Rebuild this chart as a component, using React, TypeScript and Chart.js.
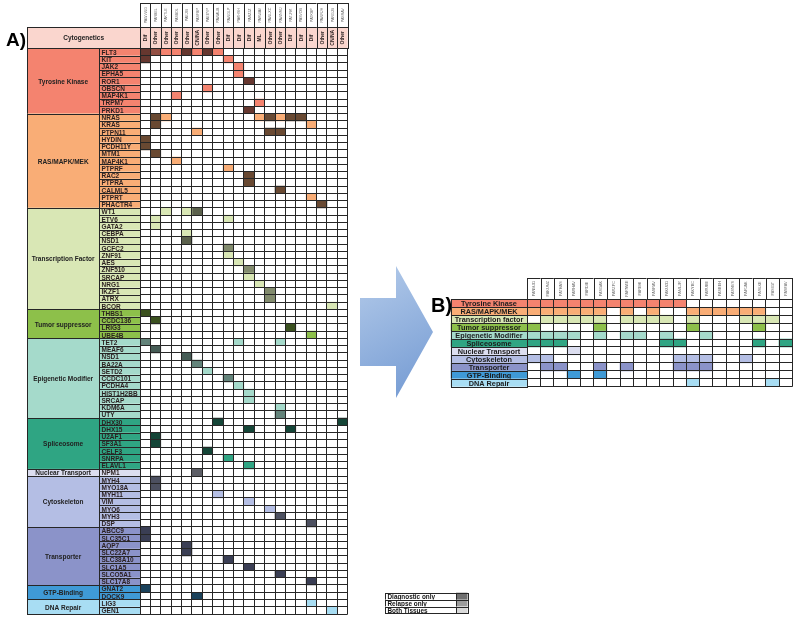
import { useEffect, useRef } from "react";
import { Chart, registerables } from "chart.js";
Chart.register(...registerables);

// ---------------- DATA ----------------
const patientsA = ["PAWVWG","PARBEL","PAKTLE","PASBDL","PAEJIB","PASFBP","PAEEYP","PAWAUB","PAWGLP","PAKHSH","PARZJZ","PARWAV","PAWLXC","PAWNMJ","PATJRK","PASVDB","PATKBP","PAWRJH","PARGJB","PASRAV"];
const cytogeneticsA = ["Dif","Other","Other","Other","Other","CN/NA","Other","Other","Dif","Dif","Dif","ML","Other","Other","Dif","Dif","Dif","Other","CN/NA","Other"];

const groupNamesA = ["Tyrosine Kinase","RAS/MAPK/MEK","Transcription Factor","Tumor suppressor","Epigenetic Modifier","Spliceosome","Nuclear Transport","Cytoskeleton","Transporter","GTP-Binding","DNA Repair"];
const groupColors = ["#F4836F","#F9AD76","#D9E7B5","#8DC04A","#A5DACB","#2FA583","#DCDEF0","#B4BEE4","#8B93C9","#3F9AD6","#A8DDF3"];

// hit spec: "<column><code>"  d = diagnostic only, r = relapse only, b = both tissues
const tyrosineKinaseA: [string, string][] = [
  ["FLT3","0d 1r 2b 3b 4d 5b 6d 7b"],["KIT","0d 8b"],["JAK2","9b"],["EPHA5","9b"],["ROR1","10d"],
  ["OBSCN","6b"],["MAP4K1","3b"],["TRPM7","11b"],["PRKD1","10d"],
];
const rasMapkMekA: [string, string][] = [
  ["NRAS","1d 2b 11b 12d 13b 14d 15d"],["KRAS","1d 16b"],["PTPN11","5b 12d 13d"],["HYDIN","0d"],["PCDH11Y","0d"],
  ["MTM1","1d"],["MAP4K1","3b"],["PTPRF","8b"],["RAC2","10d"],["PTPRA","10d"],["CALML5","13d"],["PTPRT","16b"],["PHACTR4","17d"],
];
const transcriptionFactorA: [string, string][] = [
  ["WT1","2b 4b 5d"],["ETV6","1b 8b"],["GATA2","1b"],["CEBPA","4b"],["NSD1","4d"],["GCFC2","8r"],["ZNF91","8b"],
  ["AES","9b"],["ZNF510","10r"],["SRCAP","10b"],["NRG1","11b"],["IKZF1","12r"],["ATRX","12r"],["BCOR","18b"],
];
const tumorSuppressorA: [string, string][] = [["THBS1","0d"],["CCDC136","1d"],["LRIG3","14d"],["UBE4B","16b"]];
const epigeneticModifierA: [string, string][] = [
  ["TET2","0r 9b 13b"],["MEAF6","1d"],["NSD1","4d"],["BA22A","5r"],["SETD2","6b"],["CCDC101","8r"],
  ["PCDHA4","9b"],["HIST1H2BB","10b"],["SRCAP","10b"],["KDM6A","13b"],["UTY","13r"],
];
const spliceosomeA: [string, string][] = [
  ["DHX30","7d 19d"],["DHX15","10d 14d"],["U2AF1","1d"],["SF3A1","1d"],["CELF3","6d"],["SNRPA","8b"],["ELAVL1","10b"],
];
const nuclearTransportA: [string, string][] = [["NPM1","5d"]];
const cytoskeletonA: [string, string][] = [
  ["MYH4","1d"],["MYO18A","1d"],["MYH11","7b"],["VIM","10b"],["MYO6","12b"],["MYH3","13d"],["DSP","16d"],
];
const transporterA: [string, string][] = [
  ["ABCC9","0d"],["SLC35C1","0d"],["AQP7","4d"],["SLC22A7","4d"],["SLC38A10","8d"],["SLC1A5","10d"],["SLCO5A1","13d"],["SLC17A8","16d"],
];
const gtpBindingA: [string, string][] = [["GNAT2","0d"],["DOCK9","5d"]];
const dnaRepairA: [string, string][] = [["LIG3","16b"],["GEN1","18b"]];

const groupsA = [tyrosineKinaseA, rasMapkMekA, transcriptionFactorA, tumorSuppressorA, epigeneticModifierA, spliceosomeA, nuclearTransportA, cytoskeletonA, transporterA, gtpBindingA, dnaRepairA];

const patientsB = ["PANMJD","PAKUMZ","PATHAS","PARHAV","PARDIE","PASGAK","PARZPC","PARNWE","PAREHI","PASRAV","PAKUZD","PAMLJR","PAKYBC","PARUBE","PASBEH","PASNVS","PARJAK","PASLXE","PASIGT","PASFAV"];
const categoriesB = ["Tyrosine Kinase","RAS/MAPK/MEK","Transcription factor","Tumor suppressor","Epigenetic Modifier","Spliceosome","Nuclear Transport","Cytoskeleton","Transporter","GTP-Binding","DNA Repair"];
const hitsTyrosineKinaseB = [0,1,2,3,4,5,6,7,8,9,10,11];
const hitsRasB = [0,1,2,3,4,5,7,9,12,13,14,15,16,17];
const hitsTranscriptionB = [1,2,3,4,5,7,8,9,10,12,16,17,18];
const hitsTumorB = [0,5,12,17];
const hitsEpigeneticB = [0,1,2,3,5,7,8,10,13];
const hitsSpliceosomeB = [0,1,2,10,11,17,19];
const hitsNuclearB = [3];
const hitsCytoskeletonB = [0,1,11,12,13,16];
const hitsTransporterB = [1,2,5,7,11,12,13];
const hitsGtpB = [3,5];
const hitsDnaRepairB = [12,18];
const hitsB = [hitsTyrosineKinaseB, hitsRasB, hitsTranscriptionB, hitsTumorB, hitsEpigeneticB, hitsSpliceosomeB, hitsNuclearB, hitsCytoskeletonB, hitsTransporterB, hitsGtpB, hitsDnaRepairB];

const legendLabels = ["Diagnostic only","Relapse only","Both Tissues"];
const legendColors = ["#6f6f6f","#9c9c9c","#d9d9d9"];

// ---------------- HELPERS ----------------
const FONT = '"Liberation Sans", Arial, sans-serif';
const LINE = "#262626";

function shade(hex: string, f: number) {
  const n = parseInt(hex.slice(1), 16);
  const r = Math.round(((n >> 16) & 255) * f);
  const g = Math.round(((n >> 8) & 255) * f);
  const b = Math.round((n & 255) * f);
  return `rgb(${r},${g},${b})`;
}
function cellColor(gi: number, code: string) {
  const base = groupColors[gi];
  if (code === "d") return shade(base, 0.42);
  if (code === "r") return shade(base, 0.6);
  return base;
}
function parseSpec(spec: string): Record<number, string> {
  const out: Record<number, string> = {};
  spec.split(" ").forEach((tok) => {
    const m = tok.match(/^(\d+)([a-z])$/);
    if (m) out[Number(m[1])] = m[2];
  });
  return out;
}
const rowsA = groupsA.flatMap((g, gi) => g.map(([gene, spec]) => ({ gene, gi, hits: parseSpec(spec) })));

const cr = (v: number) => Math.round(v) + 0.5;

function rotText(ctx: CanvasRenderingContext2D, text: string, x: number, y: number) {
  ctx.save();
  ctx.translate(x, y);
  ctx.rotate(-Math.PI / 2);
  ctx.fillText(text, 0, 0);
  ctx.restore();
}

function lineRect(ctx: CanvasRenderingContext2D, x1: number, y1: number, x2: number, y2: number) {
  ctx.strokeRect(cr(x1), cr(y1), Math.round(x2) - Math.round(x1), Math.round(y2) - Math.round(y1));
}

// ---------------- PLUGINS ----------------
const panelAPlugin = {
  id: "panelA",
  afterDraw(chart: any) {
    const ctx: CanvasRenderingContext2D = chart.ctx;
    const ca = chart.chartArea;
    const xs = chart.scales.x;
    const ys = chart.scales.y;
    const rowH = ys.getPixelForValue(1) - ys.getPixelForValue(0);
    const rowT = (i: number) => ys.getPixelForValue(i) - rowH / 2;
    const catL = 27.3, geneL = 99, cytoT = 27.3, idT = 3;
    ctx.save();
    ctx.lineWidth = 1;
    ctx.strokeStyle = LINE;

    // gene name cells
    rowsA.forEach((r, i) => {
      const t = rowT(i);
      ctx.fillStyle = groupColors[r.gi];
      ctx.fillRect(geneL, t, ca.left - geneL, rowH);
      lineRect(ctx, geneL, t, ca.left, t + rowH);
      ctx.fillStyle = "#2a1f1f";
      ctx.font = `bold 6.5px ${FONT}`;
      ctx.textAlign = "left";
      ctx.textBaseline = "middle";
      ctx.fillText(r.gene, geneL + 2.5, t + rowH / 2 + 1);
    });

    // group cells
    let start = 0;
    groupsA.forEach((g, gi) => {
      const t = rowT(start), b = rowT(start + g.length);
      ctx.fillStyle = groupColors[gi];
      ctx.fillRect(catL, t, geneL - catL, b - t);
      lineRect(ctx, catL, t, geneL, b);
      ctx.fillStyle = "#222";
      ctx.font = `bold 6.5px ${FONT}`;
      ctx.textAlign = "center";
      ctx.textBaseline = "middle";
      ctx.fillText(groupNamesA[gi], (catL + geneL) / 2, (t + b) / 2 + 1);
      start += g.length;
    });

    // cytogenetics row
    ctx.fillStyle = "#FAD6CE";
    ctx.fillRect(catL, cytoT, ca.right - catL, ca.top - cytoT);
    lineRect(ctx, catL, cytoT, ca.left, ca.top);
    ctx.fillStyle = "#222";
    ctx.font = `bold 6.5px ${FONT}`;
    ctx.textAlign = "center";
    ctx.textBaseline = "middle";
    ctx.fillText("Cytogenetics", (catL + ca.left) / 2, (cytoT + ca.top) / 2 + 0.5);

    cytogeneticsA.forEach((c, i) => {
      const l = xs.getPixelForValue(i), r = xs.getPixelForValue(i + 1);
      lineRect(ctx, l, cytoT, r, ca.top);
      ctx.fillStyle = "#2b2222";
      ctx.font = `bold 5px ${FONT}`;
      ctx.textAlign = "center";
      ctx.textBaseline = "middle";
      rotText(ctx, c, (l + r) / 2 + 0.5, (cytoT + ca.top) / 2);
    });

    // patient id header
    patientsA.forEach((p, i) => {
      const l = xs.getPixelForValue(i), r = xs.getPixelForValue(i + 1);
      ctx.fillStyle = "#fff";
      ctx.fillRect(l, idT, r - l, cytoT - idT);
      lineRect(ctx, l, idT, r, cytoT);
      ctx.fillStyle = "#666";
      ctx.font = `3.6px ${FONT}`;
      ctx.textAlign = "center";
      ctx.textBaseline = "middle";
      rotText(ctx, p, (l + r) / 2 + 0.5, (idT + cytoT) / 2);
    });

    // panel letter
    ctx.fillStyle = "#000";
    ctx.font = `bold 19px ${FONT}`;
    ctx.textAlign = "left";
    ctx.textBaseline = "alphabetic";
    ctx.fillText("A)", 6, 46);
    ctx.restore();
  },
};

const OX = 360, OY = 260; // canvas B origin in page coords

const panelBPlugin = {
  id: "panelB",
  beforeDraw(chart: any) {
    const ctx: CanvasRenderingContext2D = chart.ctx;
    // arrow
    ctx.save();
    const g = ctx.createLinearGradient(0, 6, 72, 138);
    g.addColorStop(0, "#B4CBEA");
    g.addColorStop(1, "#7299D2");
    ctx.fillStyle = g;
    ctx.beginPath();
    ctx.moveTo(360 - OX, 298 - OY);
    ctx.lineTo(396 - OX, 298 - OY);
    ctx.lineTo(396 - OX, 266 - OY);
    ctx.lineTo(433 - OX, 332 - OY);
    ctx.lineTo(396 - OX, 398 - OY);
    ctx.lineTo(396 - OX, 366 - OY);
    ctx.lineTo(360 - OX, 366 - OY);
    ctx.closePath();
    ctx.fill();
    ctx.restore();
  },
  afterDraw(chart: any) {
    const ctx: CanvasRenderingContext2D = chart.ctx;
    const ca = chart.chartArea;
    const xs = chart.scales.x;
    const ys = chart.scales.y;
    const rowH = ys.getPixelForValue(1) - ys.getPixelForValue(0);
    const rowT = (i: number) => ys.getPixelForValue(i) - rowH / 2;
    const labL = 450.7 - OX, idT = 278 - OY;
    ctx.save();
    ctx.lineWidth = 1;
    ctx.strokeStyle = LINE;

    categoriesB.forEach((c, i) => {
      const t = rowT(i);
      ctx.fillStyle = groupColors[i];
      ctx.fillRect(labL, t, ca.left - labL, rowH);
      lineRect(ctx, labL, t, ca.left, t + rowH);
      ctx.fillStyle = "#1c1c1c";
      ctx.font = `bold 7.3px ${FONT}`;
      ctx.textAlign = "center";
      ctx.textBaseline = "middle";
      ctx.fillText(c, (labL + ca.left) / 2, t + rowH / 2 + 1);
    });

    patientsB.forEach((p, i) => {
      const l = xs.getPixelForValue(i), r = xs.getPixelForValue(i + 1);
      ctx.fillStyle = "#fff";
      ctx.fillRect(l, idT, r - l, ca.top - idT);
      lineRect(ctx, l, idT, r, ca.top);
      ctx.fillStyle = "#666";
      ctx.font = `3.8px ${FONT}`;
      ctx.textAlign = "center";
      ctx.textBaseline = "middle";
      rotText(ctx, p, (l + r) / 2 + 0.5, (idT + ca.top) / 2);
    });

    ctx.fillStyle = "#000";
    ctx.font = `bold 20px ${FONT}`;
    ctx.textAlign = "left";
    ctx.textBaseline = "alphabetic";
    ctx.fillText("B)", 431 - OX, 311.5 - OY);

    // legend
    const lx = 385 - OX, sx = 456 - OX, ex = 467.5 - OX, ly = 592.7 - OY, lh = 6.9;
    legendLabels.forEach((lab, i) => {
      const t = ly + i * lh;
      ctx.fillStyle = "#fff";
      ctx.fillRect(lx, t, sx - lx, lh);
      ctx.fillStyle = legendColors[i];
      ctx.fillRect(sx, t, ex - sx, lh);
      lineRect(ctx, lx, t, sx, t + lh);
      lineRect(ctx, sx, t, ex, t + lh);
      ctx.fillStyle = "#111";
      ctx.font = `bold 6.4px ${FONT}`;
      ctx.textAlign = "left";
      ctx.textBaseline = "middle";
      ctx.fillText(lab, lx + 2.5, t + lh / 2 + 0.9);
    });
    ctx.restore();
  },
};

function gridScales(n: number) {
  return {
    x: {
      type: "linear",
      min: 0,
      max: n,
      position: "top",
      ticks: { display: false, stepSize: 1, maxTicksLimit: n + 1 },
      grid: { color: LINE, lineWidth: 1, drawTicks: false, z: 1 },
      border: { display: true, color: LINE, z: 1 },
    },
    y: {
      type: "category",
      offset: true,
      ticks: { display: false, autoSkip: false },
      grid: { offset: true, color: LINE, lineWidth: 1, drawTicks: false, z: 1 },
      border: { display: true, color: LINE, z: 1 },
    },
  };
}

export default function App() {
  const refA = useRef<HTMLCanvasElement>(null);
  const refB = useRef<HTMLCanvasElement>(null);

  useEffect(() => {
    const datasetsA = patientsA.map((p, c) => ({
      label: p,
      data: rowsA.map((r) => (r.hits[c] ? [c, c + 1] : null)),
      backgroundColor: rowsA.map((r) => (r.hits[c] ? cellColor(r.gi, r.hits[c]) : "rgba(0,0,0,0)")),
      borderWidth: 0,
      grouped: false,
      barPercentage: 1,
      categoryPercentage: 1,
    }));
    const chartA = new Chart(refA.current as HTMLCanvasElement, {
      type: "bar",
      data: { labels: rowsA.map((r) => r.gene), datasets: datasetsA as any },
      options: {
        indexAxis: "y",
        animation: false,
        responsive: false,
        maintainAspectRatio: false,
        layout: { padding: { left: 140, right: 12.3, top: 48.3, bottom: 8 } },
        plugins: { legend: { display: false }, tooltip: { enabled: false } },
        scales: gridScales(20) as any,
      },
      plugins: [panelAPlugin],
    });

    const datasetsB = patientsB.map((p, c) => ({
      label: p,
      data: categoriesB.map((_, i) => (hitsB[i].includes(c) ? [c, c + 1] : null)),
      backgroundColor: categoriesB.map((_, i) => groupColors[i]),
      borderWidth: 0,
      grouped: false,
      barPercentage: 1,
      categoryPercentage: 1,
    }));
    const chartB = new Chart(refB.current as HTMLCanvasElement, {
      type: "bar",
      data: { labels: categoriesB, datasets: datasetsB as any },
      options: {
        indexAxis: "y",
        animation: false,
        responsive: false,
        maintainAspectRatio: false,
        layout: { padding: { left: 527.3 - OX, right: 7.7, top: 299.3 - OY, bottom: 622 - 386.7 } },
        plugins: { legend: { display: false }, tooltip: { enabled: false } },
        scales: gridScales(20) as any,
      },
      plugins: [panelBPlugin],
    });

    return () => {
      chartA.destroy();
      chartB.destroy();
    };
  }, []);

  return (
    <div style={{ position: "absolute", left: 0, top: 0, width: 800, height: 622, background: "#fff", overflow: "hidden" }}>
      <canvas ref={refA} width={360} height={622} style={{ position: "absolute", left: 0, top: 0, width: 360, height: 622 }} />
      <canvas ref={refB} width={440} height={362} style={{ position: "absolute", left: OX, top: OY, width: 440, height: 362 }} />
    </div>
  );
}
